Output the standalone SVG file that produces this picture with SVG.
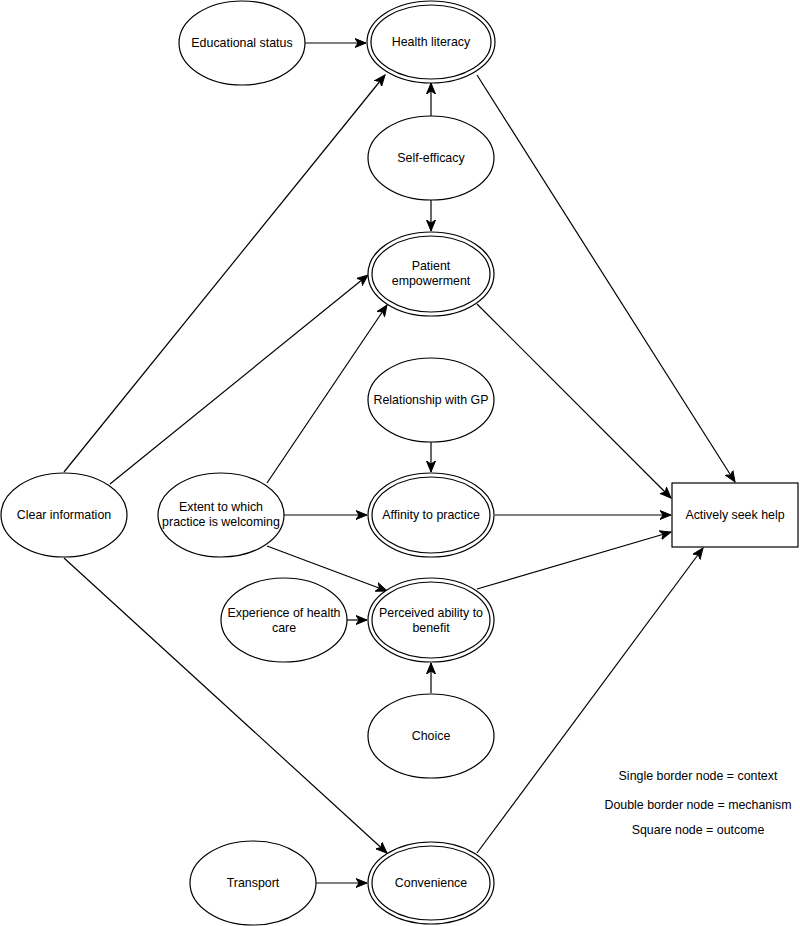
<svg xmlns="http://www.w3.org/2000/svg" width="800" height="926" viewBox="0 0 800 926">
<defs>
<style>
.n{fill:#fff;stroke:#000;stroke-width:1.2}
.t{font-family:"Liberation Sans",Arial,Helvetica,sans-serif;font-size:12.4px;fill:#000;text-anchor:middle;dominant-baseline:central}
.e{fill:none;stroke:#000;stroke-width:1.2;marker-end:url(#a)}
</style>
<marker id="a" markerUnits="userSpaceOnUse" markerWidth="12" markerHeight="10" viewBox="0 0 12 10" refX="11" refY="5" orient="auto">
<path d="M0,0.5 L11,5 L0,9.5 L3,5 z" fill="#000" stroke="#000" stroke-width="1"/>
</marker>
</defs>
<rect width="800" height="926" fill="#fff"/>
<g id="edges">
<line class="e" x1="305" y1="43" x2="366" y2="43"/>
<line class="e" x1="431" y1="116" x2="431" y2="83"/>
<line class="e" x1="431" y1="200" x2="431" y2="231"/>
<line class="e" x1="64" y1="472" x2="385" y2="75"/>
<line class="e" x1="110" y1="484" x2="368" y2="275"/>
<line class="e" x1="267" y1="483" x2="387" y2="305"/>
<line class="e" x1="284" y1="515" x2="367" y2="515"/>
<line class="e" x1="431" y1="442" x2="431" y2="472"/>
<line class="e" x1="267" y1="546" x2="387" y2="591"/>
<line class="e" x1="347" y1="620" x2="367" y2="620"/>
<line class="e" x1="431" y1="693" x2="431" y2="663"/>
<line class="e" x1="64" y1="558" x2="387" y2="853"/>
<line class="e" x1="316" y1="883" x2="367" y2="883"/>
<line class="e" x1="477" y1="75" x2="735" y2="482"/>
<line class="e" x1="477" y1="304" x2="671" y2="498"/>
<line class="e" x1="495" y1="515" x2="671" y2="515"/>
<line class="e" x1="477" y1="589" x2="671" y2="532"/>
<line class="e" x1="477" y1="853" x2="703" y2="548"/>
</g>
<g id="educational-status"><ellipse class="n" cx="242" cy="43" rx="63" ry="42"/><text class="t" x="242" y="43">Educational status</text></g>
<g id="health-literacy"><ellipse class="n" cx="431" cy="42" rx="64" ry="41"/><ellipse class="n" cx="431" cy="42" rx="60" ry="37"/><text class="t" x="431" y="42">Health literacy</text></g>
<g id="self-efficacy"><ellipse class="n" cx="431" cy="158" rx="63" ry="42"/><text class="t" x="431" y="158">Self-efficacy</text></g>
<g id="patient-empowerment"><ellipse class="n" cx="431" cy="274" rx="63" ry="42"/><ellipse class="n" cx="431" cy="274" rx="59" ry="38"/><text class="t" x="431" y="266">Patient</text><text class="t" x="431" y="281">empowerment</text></g>
<g id="relationship-gp"><ellipse class="n" cx="431" cy="400" rx="63" ry="42"/><text class="t" x="431" y="400">Relationship with GP</text></g>
<g id="clear-information"><ellipse class="n" cx="64" cy="515" rx="63" ry="42"/><text class="t" x="64" y="515">Clear information</text></g>
<g id="extent-welcoming"><ellipse class="n" cx="221" cy="515" rx="63" ry="42"/><text class="t" x="221" y="507">Extent to which</text><text class="t" x="221" y="522">practice is welcoming</text></g>
<g id="affinity-practice"><ellipse class="n" cx="431" cy="515" rx="63" ry="42"/><ellipse class="n" cx="431" cy="515" rx="59" ry="38"/><text class="t" x="431" y="515">Affinity to practice</text></g>
<g id="actively-seek-help"><rect class="n" x="672" y="483" width="126" height="64"/><text class="t" x="735" y="515">Actively seek help</text></g>
<g id="experience-health-care"><ellipse class="n" cx="284" cy="620" rx="63" ry="42"/><text class="t" x="284" y="613">Experience of health</text><text class="t" x="284" y="628">care</text></g>
<g id="perceived-ability"><ellipse class="n" cx="431" cy="620" rx="63" ry="42"/><ellipse class="n" cx="431" cy="620" rx="59" ry="38"/><text class="t" x="431" y="613">Perceived ability to</text><text class="t" x="431" y="628">benefit</text></g>
<g id="choice"><ellipse class="n" cx="431" cy="736" rx="63" ry="42"/><text class="t" x="431" y="736">Choice</text></g>
<g id="transport"><ellipse class="n" cx="253" cy="883" rx="63" ry="42"/><text class="t" x="253" y="883">Transport</text></g>
<g id="convenience"><ellipse class="n" cx="431" cy="883" rx="63" ry="41"/><ellipse class="n" cx="431" cy="883" rx="59" ry="37"/><text class="t" x="431" y="883">Convenience</text></g>
<g id="legend">
<text class="t" x="698" y="776">Single border node = context</text>
<text class="t" x="698" y="805">Double border node = mechanism</text>
<text class="t" x="698" y="830">Square node = outcome</text>
</g>
</svg>
